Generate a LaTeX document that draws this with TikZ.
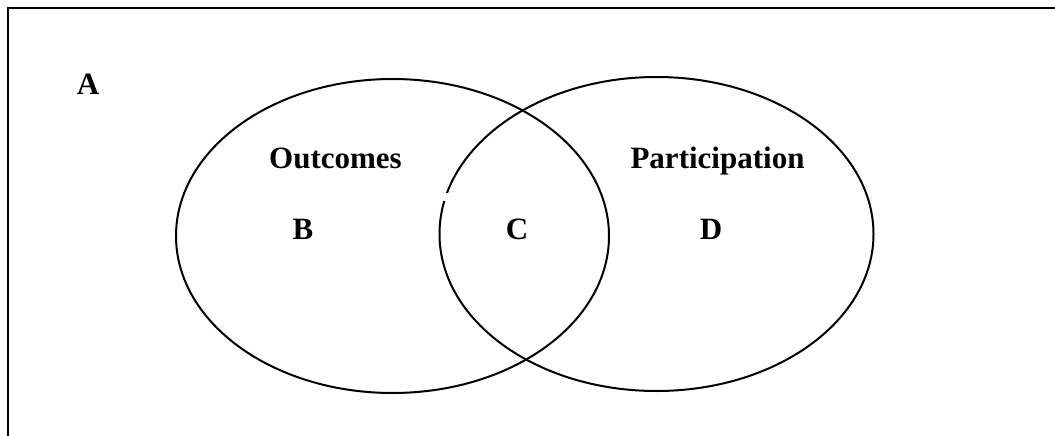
\documentclass[tikz,border=0pt]{standalone}
\usepackage{fontspec}
\setmainfont{Liberation Serif}
\usetikzlibrary{shapes.geometric}
\begin{document}
\begin{tikzpicture}[x=1pt,y=-1pt,
  lbl/.style={font=\fontsize{31}{36}\selectfont\bfseries, inner sep=0pt, anchor=base},
  set/.style={draw=black, line width=2pt}]
\useasboundingbox (0,0) rectangle (1055,436);
\draw[line width=2.6pt] (8,440) -- (8,8) -- (1060,8);
\node[set, ellipse, minimum width=433, minimum height=314, inner sep=0pt] (L) at (392.5,236) {};
\node[set, ellipse, minimum width=434, minimum height=314, inner sep=0pt] (R) at (656.5,234) {};
\fill[white] (443,192.5) rectangle (455,200.5);
\node[lbl] (A) at (88,95) {A};
\node[lbl] (out) at (335.5,168) {Outcomes};
\node[lbl] (part) at (717.5,168) {Participation};
\node[lbl] (B) at (303,239) {B};
\node[lbl] (C) at (517,239) {C};
\node[lbl] (D) at (711,239) {D};
\end{tikzpicture}
\end{document}
